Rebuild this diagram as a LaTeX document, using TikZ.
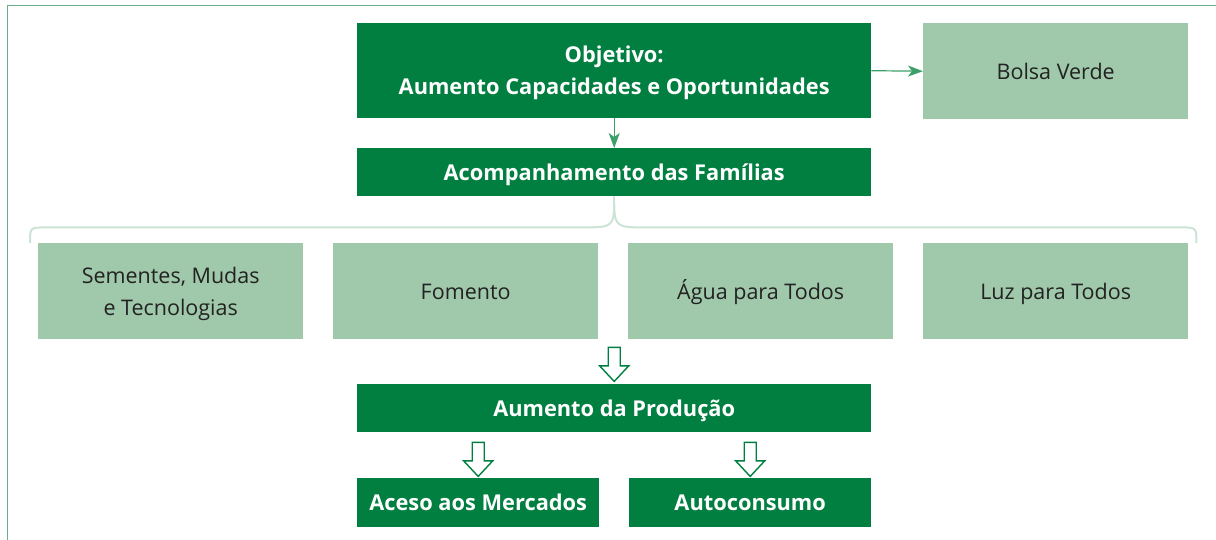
\documentclass[tikz,border=0pt]{standalone}
\usepackage{fontspec}
\setmainfont{Open Sans}
\usetikzlibrary{arrows.meta,calc}
\definecolor{dkgreen}{HTML}{007F41}
\definecolor{ltgreen}{HTML}{A0C8AA}
\definecolor{arrowgreen}{HTML}{3DA06A}
\definecolor{framegreen}{HTML}{6AAE8A}
\definecolor{bracegreen}{HTML}{CDE3D5}
\definecolor{txtdark}{HTML}{222222}
\tikzset{
  dkbox/.style={fill=dkgreen, text=white, font=\fontsize{21.8}{32}\selectfont\bfseries, anchor=north west, inner sep=0pt, align=center, text depth=0pt},
  ltbox/.style={fill=ltgreen, text=txtdark, font=\fontsize{21.5}{32}\selectfont, anchor=north west, inner sep=0pt, align=center, text depth=0pt, minimum width=265pt, minimum height=96pt},
  oneline/.style={text height=16.4pt},
  thinarrow/.style={draw=arrowgreen, line width=1.2pt, -{Stealth[length=15pt,width=11pt,inset=4pt]}},
  bracestyle/.style={draw=bracegreen, line width=2pt},
  framestyle/.style={draw=framegreen, line width=1.3pt},
  hollowarrow/.pic={\draw[line width=1.4pt, draw=dkgreen, fill=white, line join=miter]
     (-6,0) -- (-6,18.5) -- (-14.5,18.5) -- (0,34) -- (14.5,18.5) -- (6,18.5) -- (6,0) -- cycle;}
}
\begin{document}
\begin{tikzpicture}[x=1pt,y=-1pt]
\useasboundingbox (0,0) rectangle (1216,539);
\draw[framestyle] (7.5,545) -- (7.5,5.5) -- (1222,5.5);

\node[dkbox, minimum width=514pt, minimum height=95pt] (obj) at (357,23) {Objetivo:\\Aumento Capacidades e Oportunidades};
\node[ltbox, oneline] (bolsa) at (923,23) {Bolsa Verde};
\node[dkbox, oneline, minimum width=514pt, minimum height=48pt] (acomp) at (357,148) {Acompanhamento das Famílias};

\node[ltbox] (sem) at (38,243) {Sementes, Mudas\\e Tecnologias};
\node[ltbox, oneline] (fom) at (333,243) {Fomento};
\node[ltbox, oneline] (agua) at (628,243) {Água para Todos};
\node[ltbox, oneline] (luz) at (923,243) {Luz para Todos};

\node[dkbox, oneline, minimum width=514pt, minimum height=48pt] (prod) at (357,384) {Aumento da Produção};
\node[dkbox, oneline, minimum width=242pt, minimum height=49pt] (merc) at (357,478) {Aceso aos Mercados};
\node[dkbox, oneline, minimum width=242pt, minimum height=49pt] (auto) at (629,478) {Autoconsumo};

\draw[thinarrow] (obj.east) -- (bolsa.west);
\draw[thinarrow] (obj.south) -- (acomp.north);

\coordinate (bl) at ([xshift=-8pt]sem.north west);
\coordinate (br) at ([xshift=8pt]luz.north east);
\coordinate (m) at ([yshift=-31pt]acomp.south);
\coordinate (ml) at (bl |- m);
\coordinate (mr) at (br |- m);
\draw[bracestyle] (bl) .. controls (ml) .. ([xshift=16pt]ml) -- ([xshift=-33pt]m)
  .. controls (m) .. (acomp.south) .. controls (m) .. ([xshift=33pt]m)
  -- ([xshift=-16pt]mr) .. controls (mr) .. (br);

\coordinate (h1) at ([yshift=-8pt]agua.south west);
\coordinate (h1) at (h1 -| prod.north);
\pic at (h1) {hollowarrow};
\coordinate (h2) at ([yshift=-10pt]prod.south -| merc.north);
\pic at (h2) {hollowarrow};
\coordinate (h3) at ([yshift=-10pt]prod.south -| auto.north);
\pic at (h3) {hollowarrow};
\end{tikzpicture}
\end{document}
